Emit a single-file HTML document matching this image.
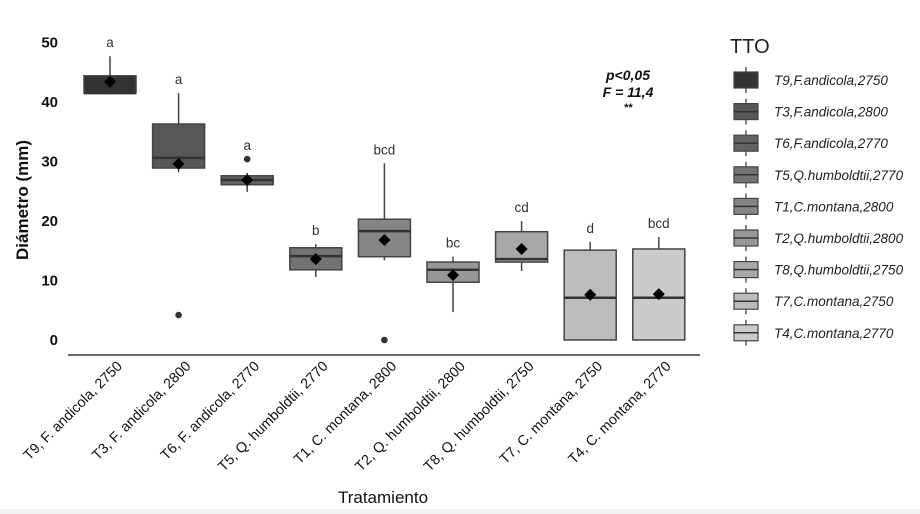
<!DOCTYPE html>
<html><head><meta charset="utf-8"><style>
html,body{margin:0;padding:0;background:#fff;}
svg{display:block;font-family:"Liberation Sans",sans-serif;}
</style></head><body>
<svg id="chart" width="920" height="514" viewBox="0 0 920 514" xmlns="http://www.w3.org/2000/svg">
<rect x="0" y="509" width="920" height="5" fill="#f2f2f2"/>
<g id="plot"></g>
<g id="legend"></g>
</svg>
<script>
const categories = ["T9, F. andicola, 2750","T3, F. andicola, 2800","T6, F. andicola, 2770","T5, Q. humboldtii, 2770","T1, C. montana, 2800","T2, Q. humboldtii, 2800","T8, Q. humboldtii, 2750","T7, C. montana, 2750","T4, C. montana, 2770"];
const legendLabels = ["T9,F.andicola,2750","T3,F.andicola,2800","T6,F.andicola,2770","T5,Q.humboldtii,2770","T1,C.montana,2800","T2,Q.humboldtii,2800","T8,Q.humboldtii,2750","T7,C.montana,2750","T4,C.montana,2770"];
const whiskerLow = [41.3,28.2,24.9,10.6,13.4,4.7,11.6,0,0];
const q1 = [41.5,28.9,26.1,11.8,14.0,9.7,13.1,0,0];
const median = [41.5,30.6,26.9,14.1,18.3,11.8,13.6,7.1,7.1];
const q3 = [44.4,36.3,27.6,15.5,20.3,13.1,18.2,15.1,15.3];
const whiskerHigh = [47.7,41.5,28.1,16.1,29.7,14.0,20.0,16.5,17.3];
const means = [43.4,29.6,26.9,13.6,16.8,10.9,15.3,7.6,7.7];
const outliers = [[],[4.2],[30.4],[],[0],[],[],[],[]];
const groupLetters = ["a","a","a","b","bcd","bc","cd","d","bcd"];
const fills = ["#333333","#575757","#636363","#737373","#858585","#979797","#a8a8a8","#bcbcbc","#cbcbcc"];
const yTicks = [0,10,20,30,40,50];

const NS="http://www.w3.org/2000/svg";
function el(tag,attrs,parent){const e=document.createElementNS(NS,tag);for(const k in attrs)e.setAttribute(k,attrs[k]);parent.appendChild(e);return e;}
const y = v => 340 - v*5.95;
const x = i => 110 + i*68.6;
const plot=document.getElementById('plot');
const leg=document.getElementById('legend');

yTicks.forEach(t=>{
  const tx=el('text',{x:58,y:y(t)+5,'text-anchor':'end','font-size':15,'font-weight':'bold',fill:'#111'},plot);
  
  
  tx.textContent=t;
});
const yt=el('text',{x:0,y:0,transform:'translate(28,200) rotate(-90)','text-anchor':'middle','font-size':17,'font-weight':'bold',fill:'#111'},plot);


yt.textContent='Diámetro (mm)';
const ax=el('line',{x1:68,x2:700,y1:355,y2:355,stroke:'#111','stroke-width':1.3},plot);



categories.forEach((c,i)=>{
  const cx=x(i), w=26;
  const g=el('g',{},plot);
  
  
  el('line',{x1:cx,x2:cx,y1:y(whiskerHigh[i]),y2:y(whiskerLow[i]),stroke:'#444','stroke-width':1.5},g);
  el('rect',{x:cx-w,y:y(q3[i]),width:2*w,height:y(q1[i])-y(q3[i]),fill:fills[i],stroke:'#444','stroke-width':1.5},g);
  el('line',{x1:cx-w,x2:cx+w,y1:y(median[i]),y2:y(median[i]),stroke:'#333','stroke-width':2.5},g);
  outliers[i].forEach(o=>{
    const d=el('circle',{cx:cx,cy:y(o),r:3.3,fill:'#333'},plot);
    
    
  });
  const m=el('path',{d:`M${cx} ${y(means[i])-6} L${cx+6} ${y(means[i])} L${cx} ${y(means[i])+6} L${cx-6} ${y(means[i])} Z`,fill:'#000'},plot);
  
  
  const top=Math.max(whiskerHigh[i],...outliers[i]);
  const lt=el('text',{x:cx,y:y(top)-9,'text-anchor':'middle','font-size':13.5,fill:'#333'},plot);
  
  
  lt.textContent=groupLetters[i];
  const xl=el('text',{x:0,y:0,transform:`translate(${cx+13},367) rotate(-45)`,'text-anchor':'end','font-size':14.3,fill:'#111'},plot);
  
  
  xl.textContent=c;

  const ly=80+i*31.6;
  const lg=el('g',{},leg);
  
  
  el('line',{x1:746,x2:746,y1:ly-13,y2:ly+13,stroke:'#333','stroke-width':1.2},lg);
  el('rect',{x:734,y:ly-8,width:24,height:16,fill:fills[i],stroke:'#444','stroke-width':1.2},lg);
  if(i>0) el('line',{x1:734,x2:758,y1:ly,y2:ly,stroke:'#333','stroke-width':1.5},lg);
  const lt2=el('text',{x:774,y:ly+5,'font-size':13.5,'font-style':'italic',fill:'#222'},lg);
  lt2.textContent=legendLabels[i];
});
const tt=el('text',{x:730,y:53,'font-size':20,fill:'#222'},leg);


tt.textContent='TTO';

[['p<0,05',80],['F = 11,4',97],['**',111]].forEach(([s,yy])=>{
  const a=el('text',{x:628,y:yy,'text-anchor':'middle','font-size':s==='**'?11:14,'font-style':'italic','font-weight':'bold',fill:'#111'},plot);
  
  
  a.textContent=s;
});
const xt=el('text',{x:383,y:503,'text-anchor':'middle','font-size':17,fill:'#111'},plot);


xt.textContent='Tratamiento';
</script>
</body></html>
